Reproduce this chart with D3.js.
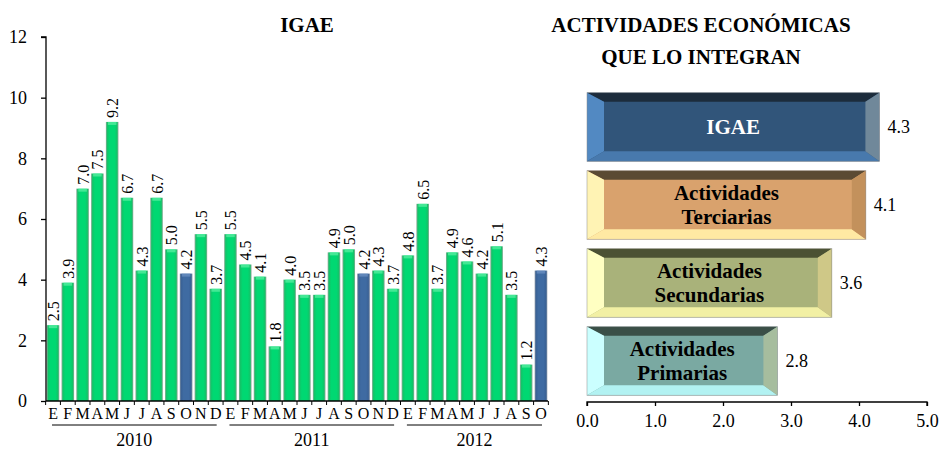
<!DOCTYPE html>
<html>
<head>
<meta charset="utf-8">
<script src="https://cdn.jsdelivr.net/npm/d3@7"></script>
<style>
  html, body { margin: 0; padding: 0; background: #fff; }
  svg text { font-family: "Liberation Serif", "Times New Roman", serif; }
</style>
</head>
<body>
<svg id="chart" width="941" height="451"></svg>
<script>
// Monthly IGAE growth (annual % change), Jan 2010 – Oct 2012
const months = ["E","F","M","A","M","J","J","A","S","O","N","D",
                "E","F","M","A","M","J","J","A","S","O","N","D",
                "E","F","M","A","M","J","J","A","S","O"];
const years = ["2010", "2011", "2012"];
const yearSpans = [[0, 11], [12, 23], [24, 33]];
const igaeValues = [2.5, 3.9, 7.0, 7.5, 9.2, 6.7, 4.3, 6.7, 5.0, 4.2, 5.5, 3.7,
                    5.5, 4.5, 4.1, 1.8, 4.0, 3.5, 3.5, 4.9, 5.0, 4.2, 4.3, 3.7,
                    4.8, 6.5, 3.7, 4.9, 4.6, 4.2, 5.1, 3.5, 1.2, 4.3];
const highlighted = [9, 21, 33]; // October of each year
const yTicks = [0, 2, 4, 6, 8, 10, 12];

// Economic activities, October 2012
const activities = ["IGAE", "Actividades Terciarias", "Actividades Secundarias", "Actividades Primarias"];
const activityLines = [["IGAE"], ["Actividades", "Terciarias"], ["Actividades", "Secundarias"], ["Actividades", "Primarias"]];
const activityValues = [4.3, 4.1, 3.6, 2.8];
const xTicks = [0, 1, 2, 3, 4, 5];

const svg = d3.select("#chart");

// ---------- Left: monthly bars ----------
const x = d3.scaleBand().domain(d3.range(months.length)).range([46, 548]).paddingInner(0.15).paddingOuter(0.05);
const y = d3.scaleLinear().domain([0, 12]).range([401, 37]);

const defs = svg.append("defs");
const gGreen = defs.append("linearGradient").attr("id", "gGreen").attr("x1", 0).attr("x2", 1).attr("y1", 0).attr("y2", 0);
[[0, "#8fa898"], [0.12, "#12c468"], [0.3, "#00d872"], [0.7, "#00d872"], [0.88, "#12c468"], [1, "#8fa898"]]
  .forEach(([o, c]) => gGreen.append("stop").attr("offset", o).attr("stop-color", c));
const gBlue = defs.append("linearGradient").attr("id", "gBlue").attr("x1", 0).attr("x2", 1).attr("y1", 0).attr("y2", 0);
[[0, "#7e8ea0"], [0.12, "#3a6296"], [0.3, "#3f6ba2"], [0.7, "#3f6ba2"], [0.88, "#3a6296"], [1, "#7e8ea0"]]
  .forEach(([o, c]) => gBlue.append("stop").attr("offset", o).attr("stop-color", c));

svg.append("text").attr("x", 307).attr("y", 32).attr("text-anchor", "middle")
  .attr("font-weight", "bold").attr("font-size", 21).text("IGAE");

const bars = svg.append("g");
igaeValues.forEach((v, i) => {
  const isHi = highlighted.includes(i);
  bars.append("rect")
    .attr("x", x(i)).attr("y", y(v)).attr("width", x.bandwidth()).attr("height", y(0) - y(v))
    .attr("fill", isHi ? "url(#gBlue)" : "url(#gGreen)");
  // light cap at the top of each bar
  bars.append("rect")
    .attr("x", x(i) + 2).attr("y", y(v)).attr("width", x.bandwidth() - 4).attr("height", 3)
    .attr("fill", isHi ? "#6f93c4" : "#5ff0a4").attr("opacity", 0.7);
  bars.append("text")
    .attr("transform", `translate(${x(i) + x.bandwidth() / 2 + 6},${y(v) - 4}) rotate(-90)`)
    .attr("font-size", 16).attr("text-anchor", "start").text(v.toFixed(1));
});

// y axis
const yAxis = svg.append("g").attr("transform", "translate(46,0)")
  .call(d3.axisLeft(y).tickValues(yTicks).tickSize(5).tickPadding(14).tickFormat(d3.format("d")));
yAxis.selectAll("text").attr("font-size", 18).attr("fill", "#000")
  .style("font-family", "'Liberation Serif', serif");
yAxis.selectAll("line,path").attr("stroke", "#000").attr("stroke-width", 1.3);
yAxis.select("path").attr("d", `M-5,${y(12)}H0V${y(0)}`);

// x axis baseline with ticks between months
const xa = svg.append("g");
xa.append("line").attr("x1", 46).attr("x2", 548).attr("y1", y(0)).attr("y2", y(0)).attr("stroke", "#000").attr("stroke-width", 1.3);
d3.range(months.length + 1).forEach(i => {
  const px = i < months.length ? x(i) - x.step() * x.paddingInner() / 2 : x(months.length - 1) + x.bandwidth() + x.step() * x.paddingInner() / 2;
  xa.append("line").attr("x1", px).attr("x2", px).attr("y1", y(0)).attr("y2", y(0) + 4).attr("stroke", "#000");
});
months.forEach((m, i) => {
  xa.append("text").attr("x", x(i) + x.bandwidth() / 2).attr("y", 419).attr("text-anchor", "middle")
    .attr("font-size", 16).text(m);
});
yearSpans.forEach(([a, b], k) => {
  const x1 = x(a) + x.bandwidth() / 2 - 1, x2 = x(b) + x.bandwidth() / 2 + 1;
  xa.append("line").attr("x1", x1).attr("x2", x2).attr("y1", 425).attr("y2", 425).attr("stroke", "#000");
  xa.append("text").attr("x", (x1 + x2) / 2).attr("y", 446).attr("text-anchor", "middle")
    .attr("font-size", 18).text(years[k]);
});

// ---------- Right: activities ----------
svg.append("text").attr("x", 701).attr("y", 32).attr("text-anchor", "middle")
  .attr("font-weight", "bold").attr("font-size", 21).text("ACTIVIDADES ECONÓMICAS");
svg.append("text").attr("x", 701).attr("y", 64).attr("text-anchor", "middle")
  .attr("font-weight", "bold").attr("font-size", 21).text("QUE LO INTEGRAN");

const hx = d3.scaleLinear().domain([0, 5]).range([587, 927]);
const hy = d3.scaleBand().domain(activities).range([88, 400]).paddingInner(0.12).paddingOuter(0.06);

// face colours: centre, top, left, bottom, right
const palettes = [
  { c: "#31557a", t: "#1c2c3c", l: "#5289c2", b: "#4879ad", r: "#70889a", txt: "#fff" },
  { c: "#d9a26d", t: "#5b4a33", l: "#fff3b4", b: "#ffe9a3", r: "#c3915c", txt: "#000" },
  { c: "#a9b27a", t: "#4b5133", l: "#ffffc2", b: "#f2f0a4", r: "#cfc887", txt: "#000" },
  { c: "#7aa9a2", t: "#3a4f47", l: "#cbffff", b: "#b2f2f2", r: "#a6bd9e", txt: "#000" }
];

const hbars = svg.append("g");
activities.forEach((a, i) => {
  const p = palettes[i];
  const x0 = hx(0), x1 = hx(activityValues[i]);
  const y0 = hy(a), y1 = hy(a) + hy.bandwidth();
  const bl = 17, bt = 9, br = 14, bb = 10;
  const poly = pts => hbars.append("polygon").attr("points", pts.map(q => q.join(",")).join(" "));
  hbars.append("rect").attr("x", x0).attr("y", y0).attr("width", x1 - x0).attr("height", y1 - y0).attr("fill", p.c);
  poly([[x0, y0], [x1, y0], [x1 - br, y0 + bt], [x0 + bl, y0 + bt]]).attr("fill", p.t);
  poly([[x0, y0], [x0 + bl, y0 + bt], [x0 + bl, y1 - bb], [x0, y1]]).attr("fill", p.l);
  poly([[x0, y1], [x0 + bl, y1 - bb], [x1 - br, y1 - bb], [x1, y1]]).attr("fill", p.b);
  poly([[x1, y0], [x1, y1], [x1 - br, y1 - bb], [x1 - br, y0 + bt]]).attr("fill", p.r);
  hbars.append("rect").attr("x", x0).attr("y", y0).attr("width", x1 - x0).attr("height", y1 - y0)
    .attr("fill", "none").attr("stroke", "#8a8a8a").attr("stroke-width", 0.8).attr("opacity", 0.6);

  const lines = activityLines[i];
  const cy = (y0 + y1) / 2;
  lines.forEach((ln, k) => {
    hbars.append("text").attr("x", (x0 + x1) / 2).attr("y", cy + 7 + (k - (lines.length - 1) / 2) * 24)
      .attr("text-anchor", "middle").attr("font-weight", "bold").attr("font-size", 21)
      .attr("fill", p.txt).text(ln);
  });
  hbars.append("text").attr("x", x1 + 8).attr("y", cy + 6).attr("font-size", 18).text(activityValues[i].toFixed(1));
});

const hAxis = svg.append("g").attr("transform", "translate(0,402)")
  .call(d3.axisBottom(hx).tickValues(xTicks).tickSize(4).tickPadding(8).tickFormat(d3.format(".1f")));
hAxis.selectAll("text").attr("font-size", 18).attr("fill", "#000")
  .style("font-family", "'Liberation Serif', serif");
hAxis.selectAll("line,path").attr("stroke", "#000").attr("stroke-width", 1.3);
hAxis.select("path").attr("d", `M${hx(0)},4V0H${hx(5)}V4`);
</script>
</body>
</html>
